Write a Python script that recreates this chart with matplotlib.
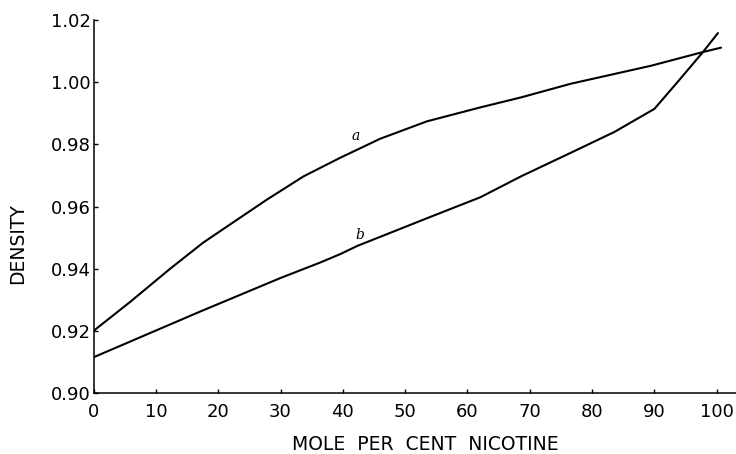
import matplotlib
matplotlib.use("Agg")
import matplotlib.pyplot as plt

# Curve a
a_x = [0, 5.8, 12.3, 17.6, 27.8, 33.7, 39.6, 46.0, 53.5, 62.1, 68.6, 76.6, 89.5, 97.8, 100.7]
a_y = [0.920, 0.9292, 0.9400, 0.9484, 0.9622, 0.9697, 0.9757, 0.9818, 0.9874, 0.9919,
       0.9951, 0.9995, 1.0053, 1.0097, 1.0111]

# Curve b
b_x = [0, 17.1, 30.0, 36.4, 39.6, 42.3, 53.6, 62.1, 68.6, 76.6, 83.6, 90.0, 93.7, 97.8, 100.2]
b_y = [0.9115, 0.9262, 0.9370, 0.9420, 0.9447, 0.9473, 0.9563, 0.9630, 0.9697, 0.9773,
       0.9840, 0.9914, 1.0000, 1.0097, 1.0158]

x_ticks = [0, 10, 20, 30, 40, 50, 60, 70, 80, 90, 100]
y_ticks = [0.90, 0.92, 0.94, 0.96, 0.98, 1.00, 1.02]
y_ticklabels = ["0.90", "0.92", "0.94", "0.96", "0.98", "1.00", "1.02"]

W, H = 736, 454
fig = plt.figure(figsize=(W / 100, H / 100), dpi=100)
ax = fig.add_axes([93.6 / W, 1 - 393 / H, 1 - 93.6 / W, (393 - 20) / H])

ax.plot(a_x, a_y, color="black", lw=1.5, solid_capstyle="round", solid_joinstyle="round")
ax.plot(b_x, b_y, color="black", lw=1.5, solid_capstyle="round", solid_joinstyle="round")

ax.set_xlim(0, 103.1)
ax.set_ylim(0.90, 1.02)
ax.set_xticks(x_ticks)
ax.set_xticklabels([str(t) for t in x_ticks])
ax.set_yticks(y_ticks)
ax.set_yticklabels(y_ticklabels)

for s in ["top", "right"]:
    ax.spines[s].set_visible(False)
for s in ["left", "bottom"]:
    ax.spines[s].set_linewidth(1.1)

ax.tick_params(axis="both", direction="in", length=3, width=1, labelsize=13)
ax.tick_params(axis="y", pad=2)
ax.tick_params(axis="x", pad=7)

ax.text(42.0, 0.9827, "a", fontsize=10, style="italic", family="DejaVu Serif",
        ha="center", va="center")
ax.text(42.8, 0.9508, "b", fontsize=10, style="italic", family="DejaVu Serif",
        ha="center", va="center")

fig.text(17.5 / W, 1 - 244 / H, "DENSITY", rotation=90, fontsize=13.5,
         ha="center", va="center")
fig.text(425.5 / W, 1 - 445 / H, "MOLE  PER  CENT  NICOTINE", fontsize=13.5,
         ha="center", va="center")

fig.savefig("out.png", dpi=100)
